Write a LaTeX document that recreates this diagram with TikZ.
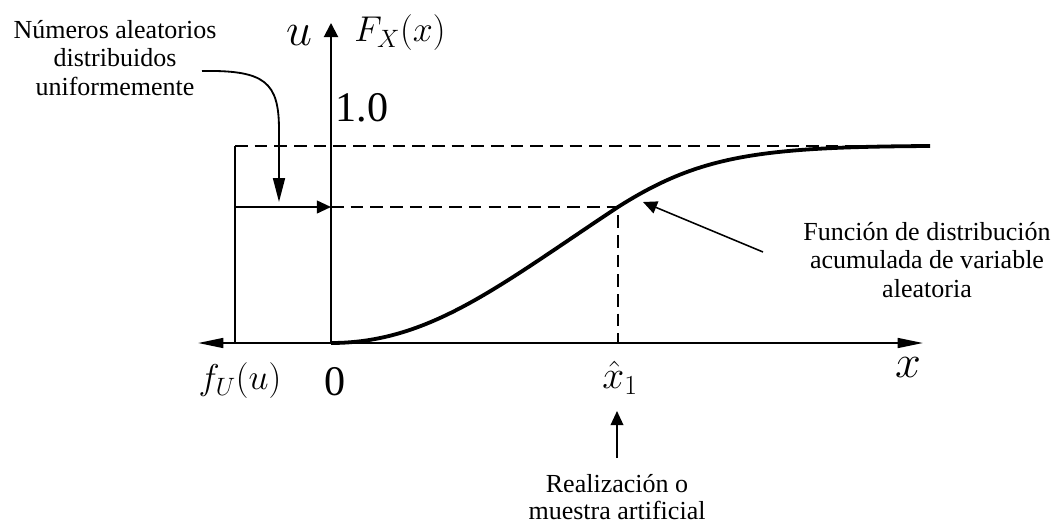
\documentclass[tikz,border=0pt]{standalone}
\usepackage{fix-cm}
\usepackage{fontspec}
\setmainfont{Liberation Serif}
\usetikzlibrary{arrows.meta}
\tikzset{
  axis/.style={line width=1.4pt},
  cdf/.style={line width=2.7pt},
  guide/.style={line width=1.3pt, dash pattern=on 9pt off 5pt},
  pointer/.style={line width=1.1pt, -{Triangle[length=10pt,width=9pt]}},
  longpointer/.style={line width=1.3pt, -{Triangle[length=17pt,width=8.5pt]}},
  note/.style={align=center, font=\fontsize{18.5}{20.5}\selectfont, inner sep=0pt},
  mathlbl/.style={font=\fontsize{25.5}{30}\selectfont, inner sep=0pt},
  numlbl/.style={font=\fontsize{30}{34}\selectfont, inner sep=0pt},
  varlbl/.style={font=\fontsize{33}{38}\selectfont, inner sep=0pt},
}
\begin{document}
\begin{tikzpicture}[x=0.025cm, y=-0.025cm]
\useasboundingbox (0,0) rectangle (1056,526);
% ejes
\coordinate (o) at (331,343);
\coordinate (xl) at (198,343);
\coordinate (xr) at (923,343);
\coordinate (ut) at (331,23);
\coordinate (ub) at (235,343);
\coordinate (uu) at (235,146);
\coordinate (fe) at (930,146);
\coordinate (u1) at (235,207);
\coordinate (a1) at (331,207);
\coordinate (p1) at (618,207);
\coordinate (q1) at (618,343);
\draw[axis, {Triangle[length=18pt,width=7pt]}-{Triangle[length=18pt,width=7pt]}] (xl) -- (xr);
\draw[axis, -{Triangle[length=10pt,width=10pt]}] (o) -- (ut);
\draw[axis] (ub) -- (uu);
\draw[guide] (uu) -- (fe);
\draw[pointer, line width=1.4pt] (u1) -- (a1);
\draw[guide] (a1) -- (p1) -- (q1);
% funcion de distribucion
\draw[cdf] (o) .. controls (430,343) and (500,285) .. (p1)
  .. controls (700,155) and (760,147) .. (fe);
% etiquetas
\node[varlbl] (lu) at (299,36) {$u$};
\node[mathlbl] (lF) at (400,33) {$F_X(x)$};
\node[numlbl] (l1) at (362,108) {1.0};
\node[mathlbl] (lf) at (240,381) {$f_U(u)$};
\node[numlbl] (l0) at (335,382) {0};
\node[mathlbl, font=\fontsize{28}{32}\selectfont] (lxh) at (620,378) {$\hat{x}_1$};
\node[varlbl] (lx) at (908,368) {$x$};
% textos
\node[note] (nums) at (115,58) {Números aleatorios\\distribuidos\\uniformemente};
\node[note] (fdist) at (927,260) {Función de distribución\\acumulada de variable\\aleatoria};
\node[note, font=\fontsize{18.5}{19}\selectfont] (real) at (617,497) {Realización o\\muestra artificial};
\coordinate (n0) at (202,71);
\coordinate (n1) at (279,202);
\coordinate (f0) at (763,252);
\coordinate (f1) at (643,202);
\coordinate (r0) at (617,458);
\coordinate (r1) at (617,411);
\draw[longpointer] (n0) .. controls (265,70) and (279,82) .. (279,130) -- (n1);
\draw[pointer] (f0) -- (f1);
\draw[pointer] (r0) -- (r1);
\end{tikzpicture}
\end{document}
